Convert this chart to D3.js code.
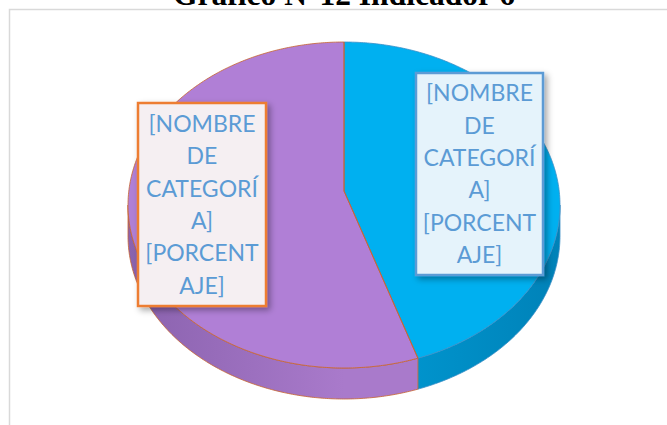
<!DOCTYPE html>
<html><head><meta charset="utf-8">
<script src="https://cdn.jsdelivr.net/npm/d3@7"></script>
<style>html,body{margin:0;padding:0;background:#fff;}svg{display:block}</style>
</head><body>
<svg id="c" width="667" height="425"></svg>
<script>
const title = "Gráfico N°12 Indicador 6";
const categories = ["A", "B"];
const values = [4, 5];
const labelLines = ["[NOMBRE", "DE", "CATEGORÍ", "A]", "[PORCENT", "AJE]"];
const topColors = ["#00B0F0", "#B07FD6"];
const sideDark = ["#0082B8", "#8A62AE"];
const sideLight = ["#00A6E2", "#A97ACB"];
const edgeColors = ["#3C8FC6", "#C8652E"];
const boxBorders = ["#5B9BD5", "#ED7D31"];
const boxFills = ["#E5F3FB", "#F5EFF2"];

const W = 667, H = 425;
const svg = d3.select("#c");
const defs = svg.append("defs");
const f = defs.append("filter").attr("id","sh").attr("x","-20%").attr("y","-20%").attr("width","150%").attr("height","150%");
f.append("feDropShadow").attr("dx",3).attr("dy",3).attr("stdDeviation",3).attr("flood-color","#000").attr("flood-opacity",0.35);

// frame
svg.append("rect").attr("x",9.5).attr("y",9.5).attr("width",W+20).attr("height",H+20)
  .attr("fill","none").attr("stroke","#D9D9D9").attr("stroke-width",1.5);

svg.append("text").attr("x",344).attr("y",5).attr("text-anchor","middle")
  .attr("font-family","'Liberation Serif', serif").attr("font-weight","bold").attr("font-size",31.5)
  .attr("fill","#000").text(title);

const cx = 344, cy = 205, rx = 216, ry = 163, depth = 31;
const pie = d3.pie().sort(null).startAngle(0).endAngle(2*Math.PI);
const arcs = pie(values);
const pt = (a, dy=0) => [cx + rx*Math.sin(a), cy - ry*Math.cos(a) + dy];
const samples = (a0, a1) => { const n = Math.max(2, Math.ceil(Math.abs(a1-a0)/0.01)); return d3.range(n+1).map(i => a0 + (a1-a0)*i/n); };
const line = d3.line();

// side gradients
arcs.forEach((d,i) => {
  const g = defs.append("linearGradient").attr("id","sg"+i).attr("gradientUnits","userSpaceOnUse")
    .attr("x1",cx-rx).attr("x2",cx+rx).attr("y1",0).attr("y2",0);
  if (i===0) { g.append("stop").attr("offset","0.3").attr("stop-color",sideLight[i]); g.append("stop").attr("offset","1").attr("stop-color",sideDark[i]); }
  else { g.append("stop").attr("offset","0").attr("stop-color",sideDark[i]); g.append("stop").attr("offset","0.5").attr("stop-color",sideLight[i]); }
});

// side walls (front half: angles between PI/2 and 3PI/2)
arcs.forEach((d,i) => {
  const a0 = Math.max(d.startAngle, Math.PI/2), a1 = Math.min(d.endAngle, 3*Math.PI/2);
  if (a1 <= a0) return;
  const topPts = samples(a0, a1).map(a => pt(a));
  const botPts = samples(a1, a0).map(a => pt(a, depth));
  svg.append("path").attr("d", line(topPts.concat(botPts)) + "Z")
    .attr("fill","url(#sg"+i+")").attr("stroke",edgeColors[i]).attr("stroke-width",0.8).attr("stroke-linejoin","round");
});

// top faces
arcs.forEach((d,i) => {
  const pts = [[cx, cy - 14]].concat(samples(d.startAngle, d.endAngle).map(a => pt(a)));
  svg.append("path").attr("d", line(pts) + "Z")
    .attr("fill", topColors[i]).attr("stroke", edgeColors[i]).attr("stroke-width", 0.8).attr("stroke-linejoin","round");
});
svg.append("path").attr("d", line([pt(arcs[1].startAngle), [cx, cy-14], pt(0)]))
  .attr("fill","none").attr("stroke",edgeColors[1]).attr("stroke-width",0.8);

// labels
const boxes = [{x:416, y:73, w:127, h:202}, {x:138, y:103, w:128, h:203}];
arcs.forEach((d,i) => {
  const b = boxes[i];
  const g = svg.append("g");
  g.append("rect").attr("x",b.x).attr("y",b.y).attr("width",b.w).attr("height",b.h)
    .attr("fill",boxFills[i]).attr("stroke",boxBorders[i]).attr("stroke-width",2.5).attr("filter","url(#sh)");
  const lh = 32.4, startY = b.y + b.h/2 - lh*2.5;
  labelLines.forEach((t,k) => {
    g.append("text").attr("x", b.x + b.w/2).attr("y", startY + k*lh).attr("dy","0.36em")
      .attr("text-anchor","middle").attr("font-family","Lato, 'Open Sans', sans-serif").attr("font-size",23)
      .attr("fill","#5B9BD5").text(t);
  });
});
</script>
</body></html>
